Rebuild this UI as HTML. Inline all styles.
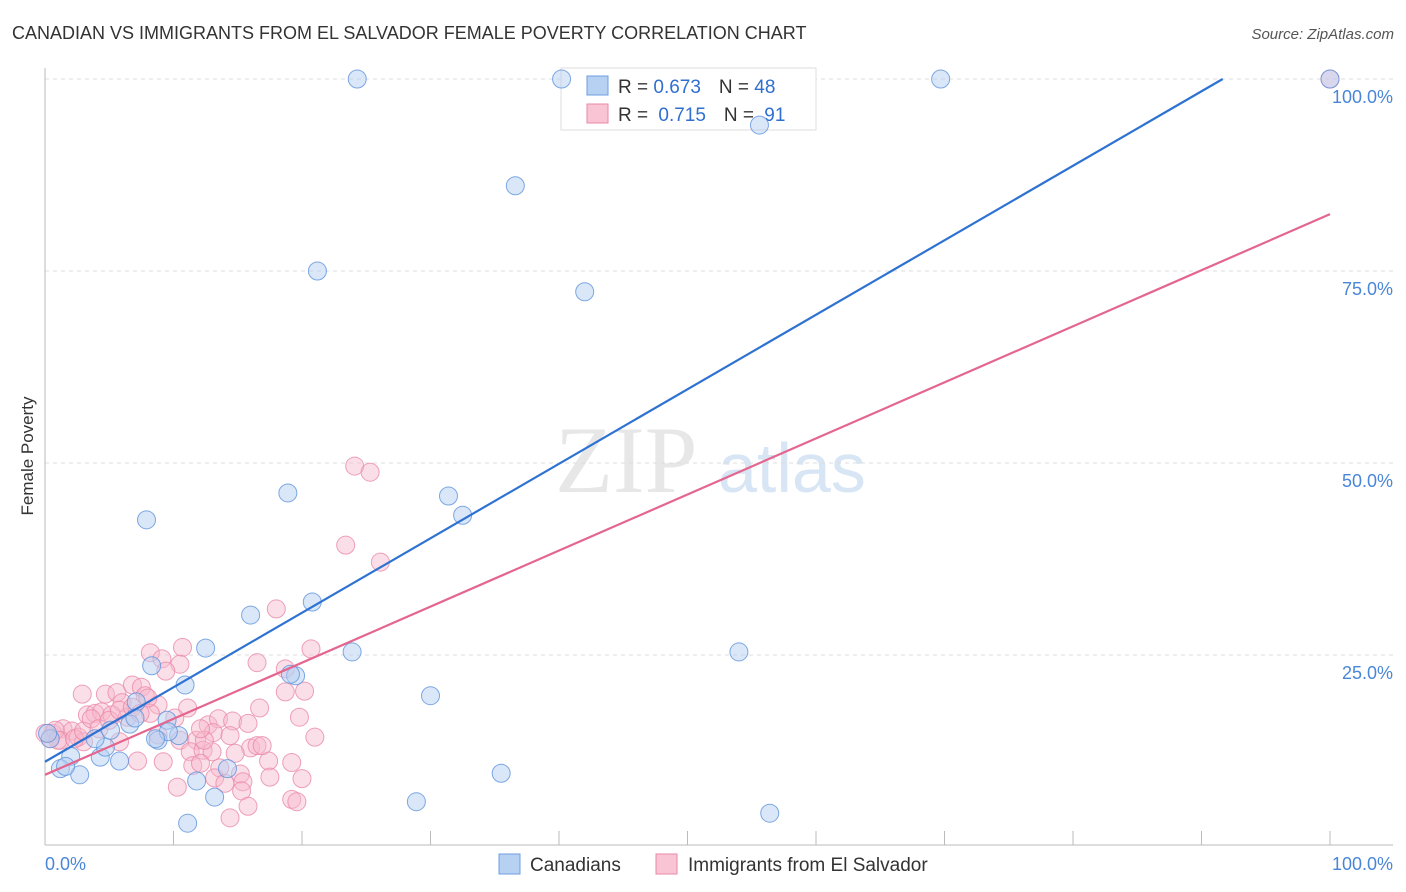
<!DOCTYPE html>
<html><head><meta charset="utf-8"><style>
body{margin:0;background:#fff;font-family:"Liberation Sans",sans-serif;}
svg{display:block}
</style></head><body>
<svg id="chart" width="1406" height="892" viewBox="0 0 1406 892" xmlns="http://www.w3.org/2000/svg">
<text x="12" y="39" font-size="18" fill="#333" font-family="Liberation Sans,sans-serif">CANADIAN VS IMMIGRANTS FROM EL SALVADOR FEMALE POVERTY CORRELATION CHART</text>
<text x="1394" y="39" font-size="15" fill="#555" font-style="italic" text-anchor="end">Source: ZipAtlas.com</text>
<text transform="translate(33,456) rotate(-90)" font-size="17" fill="#333" text-anchor="middle">Female Poverty</text>
<g>
<text x="555" y="492" font-size="95" fill="#ddd" font-family="Liberation Serif,serif" opacity="0.7">ZIP</text>
<text x="718" y="492" font-size="70" fill="#c8dbf0" opacity="0.7">atlas</text>
</g>
<g id="grid"></g>
<g id="axes"></g>
<g>
<rect x="561" y="68" width="255" height="62" fill="#fff" stroke="#ddd"/>
<rect x="587" y="76" width="21" height="19" fill="#b7d1f3" stroke="#6d9de0"/>
<rect x="587" y="104" width="21" height="19" fill="#f9c4d4" stroke="#e88aa8"/>
<text x="618" y="93" font-size="19" fill="#333">R = <tspan fill="#2f6fd0">0.673</tspan><tspan dx="18">N = </tspan><tspan fill="#2f6fd0">48</tspan></text>
<text x="618" y="121" font-size="19" fill="#333">R = <tspan fill="#2f6fd0" dx="5">0.715</tspan><tspan dx="18">N = </tspan><tspan fill="#2f6fd0" dx="5">91</tspan></text>
</g>
<g id="points"></g>
<g id="lines"></g>
<g>
<rect x="499" y="854" width="21" height="20" fill="#b7d1f3" stroke="#6d9de0"/>
<text x="530" y="871" font-size="19" fill="#333">Canadians</text>
<rect x="656" y="854" width="21" height="20" fill="#f9c4d4" stroke="#e88aa8"/>
<text x="688" y="871" font-size="19" fill="#333">Immigrants from El Salvador</text>
</g>
</svg>
<script>
const blueX=[24.3,40.2,69.7,100,55.6,36.6,21.2,42.0,18.9,31.4,7.9,32.5,16.0,20.8,23.9,54.0,12.5,8.3,10.9,19.5,19.1,30.0,7.1,9.5,6.6,10.4,8.8,9.6,8.6,4.3,4.7,2.0,1.2,5.8,2.7,1.6,0.4,0.2,35.5,28.9,56.4,11.1,13.2,14.2,11.8,3.9,7.0,5.1];
const blueY=[100,100,100,100,94.0,86.1,75.0,72.3,46.1,45.7,42.6,43.2,30.2,31.9,25.4,25.4,25.9,23.6,21.1,22.3,22.5,19.7,18.9,16.5,16.0,14.5,13.9,15.0,14.1,11.7,13.0,11.8,10.2,11.2,9.4,10.5,14.1,14.8,9.6,5.9,4.4,3.1,6.5,10.2,8.6,14.1,16.8,15.2];
const pinkX=[10.7,8.2,9.1,10.5,9.4,16.5,20.7,18.7,20.2,2.9,4.7,5.6,6.8,7.5,7.8,6.0,8.8,11.1,16.7,3.3,3.9,4.4,5.2,6.4,8.2,10.1,12.7,13.5,14.6,13.1,21.0,0.6,1.4,2.1,2.6,3.0,0.4,1.2,5.8,8.8,10.5,11.8,11.3,12.3,13.0,16.0,16.5,7.2,9.2,11.5,12.1,17.4,19.2,13.6,15.2,13.2,14.0,17.5,20.0,10.3,15.4,15.3,19.2,19.6,15.8,14.4,24.1,25.3,23.4,26.1,18.0,100,0,0.8,1.0,2.3,3.0,3.6,4.2,5.0,5.8,6.8,7.4,8.0,12.4,14.4,12.1,18.7,15.8,14.8,19.8,16.9];
const pinkY=[26.0,25.3,24.5,23.8,22.9,24.0,25.8,23.2,20.3,19.9,19.9,20.1,21.1,20.8,19.7,18.8,18.5,18.1,18.1,17.2,17.4,17.6,17.2,16.9,17.4,16.8,15.9,16.7,16.4,14.9,14.3,14.8,15.4,15.1,14.3,13.7,14.1,13.9,13.7,14.6,13.9,13.9,12.4,12.6,12.4,12.9,13.2,11.2,11.1,10.6,10.9,11.2,11.0,10.3,9.5,9.0,8.3,9.1,8.9,7.8,8.5,7.3,6.2,5.9,5.3,3.8,49.6,48.8,39.3,37.1,31.0,100,14.8,15.2,13.9,14.1,15.1,16.7,15.4,16.5,17.8,18.2,17.4,19.4,13.9,14.5,15.4,20.2,16.1,12.2,16.9,13.2];
const blueLine=[11.1,0.97];   // intercept, slope
const pinkLine=[9.4,0.73];
const yTicks=[25,50,75,100];
const yTickLabels=["25.0%","50.0%","75.0%","100.0%"];
const xTicks=[0,10,20,30,40,50,60,70,80,90,100];
const NS="http://www.w3.org/2000/svg";
const sx=v=>45+v*12.85, sy=v=>847-v*7.68;
function mk(tag,attrs,parent){const e=document.createElementNS(NS,tag);for(const k in attrs)e.setAttribute(k,attrs[k]);parent.appendChild(e);return e;}
const grid=document.getElementById('grid'),axes=document.getElementById('axes'),pts=document.getElementById('points'),lines=document.getElementById('lines');
yTicks.forEach((t,i)=>{
  const l=mk('line',{x1:45,x2:1393,y1:sy(t),y2:sy(t),stroke:'#ddd','stroke-dasharray':'4,4'},grid);
  
  
  const tx=mk('text',{x:1393,y:sy(t)+24,'font-size':18,fill:'#4a86d8','text-anchor':'end'},axes);
  tx.textContent=yTickLabels[i];
  
  
});
const xa=mk('line',{x1:45,x2:1393,y1:845,y2:845,stroke:'#bbb'},axes);


const ya=mk('line',{x1:45,x2:45,y1:68,y2:845,stroke:'#bbb'},axes);


xTicks.forEach(t=>{
  const l=mk('line',{x1:sx(t),x2:sx(t),y1:845,y2:831,stroke:'#bbb'},axes);
  
  
});
const x0=mk('text',{x:45,y:870,'font-size':18,fill:'#4a86d8'},axes);x0.textContent='0.0%';


const x1=mk('text',{x:1393,y:870,'font-size':18,fill:'#4a86d8','text-anchor':'end'},axes);x1.textContent='100.0%';


pinkX.forEach((v,i)=>{
  const c=mk('circle',{cx:sx(v),cy:sy(pinkY[i]),r:9,fill:'#f7b8cb','fill-opacity':0.45,stroke:'#ea8aa9','stroke-opacity':0.8},pts);
  
  
});
blueX.forEach((v,i)=>{
  const c=mk('circle',{cx:sx(v),cy:sy(blueY[i]),r:9,fill:'#b5d0f2','fill-opacity':0.5,stroke:'#5f93dc','stroke-opacity':0.8},pts);
  
  
});
const bEnd=Math.min(100,(100-blueLine[0])/blueLine[1]);
const bl=mk('line',{x1:sx(0),y1:sy(blueLine[0]),x2:sx(bEnd),y2:sy(blueLine[0]+blueLine[1]*bEnd),stroke:'#2e72d2','stroke-width':2.2},lines);


const pl=mk('line',{x1:sx(0),y1:sy(pinkLine[0]),x2:sx(100),y2:sy(pinkLine[0]+pinkLine[1]*100),stroke:'#e4668f','stroke-width':2.2},lines);


</script>
</body></html>
